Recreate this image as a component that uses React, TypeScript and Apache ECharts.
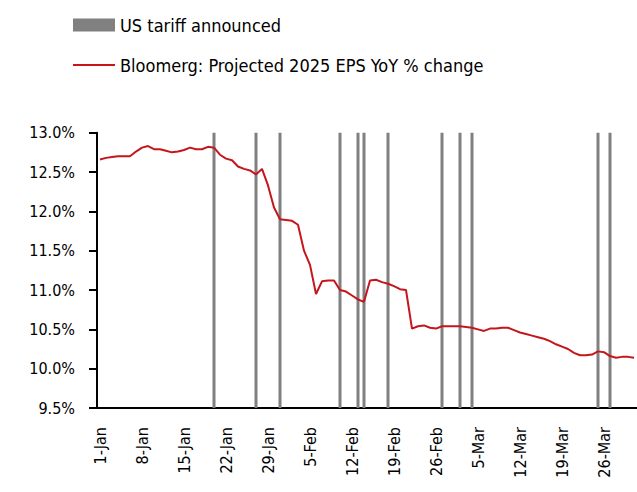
import React, { useEffect, useRef } from "react";
import * as echarts from "echarts";

// Months covered by the date axis (2025): name and number of days shown
const months: [string, number][] = [["Jan", 31], ["Feb", 28], ["Mar", 31]];

// Bloomberg projected 2025 EPS YoY % change, one value per calendar day from 1-Jan
const epsGrowth: number[] = [
  12.66, 12.68, 12.69, 12.70, 12.70, 12.70, 12.76, 12.81, 12.83, 12.79,
  12.79, 12.77, 12.75, 12.76, 12.78, 12.81, 12.79, 12.79, 12.82, 12.81,
  12.72, 12.67, 12.65, 12.57, 12.54, 12.52, 12.47, 12.54, 12.33, 12.05,
  11.90, 11.89, 11.88, 11.83, 11.50, 11.32, 10.95, 11.11, 11.12, 11.12,
  11.00, 10.98, 10.93, 10.88, 10.85, 11.12, 11.13, 11.10, 11.08, 11.05,
  11.01, 11.00, 10.51, 10.54, 10.55, 10.52, 10.51, 10.54, 10.54, 10.54,
  10.54, 10.53, 10.52, 10.50, 10.48, 10.51, 10.51, 10.52, 10.52, 10.49,
  10.46, 10.44, 10.42, 10.40, 10.38, 10.35, 10.31, 10.28, 10.25, 10.20,
  10.17, 10.17, 10.18, 10.22, 10.21, 10.16, 10.14, 10.15, 10.15, 10.14,
];

// Dates on which a US tariff was announced
const tariffDates: string[] = [
  "20-Jan", "27-Jan", "31-Jan", "10-Feb", "13-Feb", "14-Feb", "18-Feb",
  "27-Feb", "2-Mar", "4-Mar", "25-Mar", "27-Mar",
];

const tariffLevel = 13.0;

const yMin = 9.5;
const yMax = 13.0;
const yStep = 0.5;

const seriesNames = ["US tariff announced", "Bloomerg: Projected 2025 EPS YoY % change"];

const FONT = "'DejaVu Sans Condensed', 'Liberation Sans Narrow', sans-serif";
const LINE_ICON = "path://M0,0 L0,0 M0,5.5 L42,5.5 L42,7.5 L0,7.5 Z M42,13 L42,13";

export default function App() {
  const ref = useRef<HTMLDivElement>(null);

  useEffect(() => {
    if (!ref.current) return;
    const chart = echarts.init(ref.current, undefined, { renderer: "svg" });

    const categories: string[] = [];
    months.forEach(([m, n]) => {
      for (let d = 1; d <= n; d++) categories.push(`${d}-${m}`);
    });

    const tariffData = categories.map((c) => (tariffDates.includes(c) ? tariffLevel : "-"));

    chart.setOption({
      animation: false,
      backgroundColor: "#ffffff",
      legend: {
        orient: "vertical",
        left: 68,
        top: 9,
        itemWidth: 42,
        itemHeight: 13,
        itemGap: 18,
        symbolKeepAspect: false,
        textStyle: { fontFamily: FONT, fontSize: 18, color: "#000", lineHeight: 22 },
        data: [
          { name: seriesNames[0], icon: "rect" },
          { name: seriesNames[1], icon: LINE_ICON },
        ],
      },
      grid: { left: 97, right: 0, top: 132.7, bottom: 84 },
      xAxis: {
        type: "category",
        data: categories,
        boundaryGap: true,
        axisLine: { lineStyle: { color: "#000", width: 2 } },
        axisTick: { show: false },
        axisLabel: {
          interval: 6,
          rotate: 90,
          margin: 19,
          fontFamily: FONT,
          fontSize: 16,
          color: "#000",
        },
        splitLine: { show: false },
      },
      yAxis: {
        type: "value",
        min: yMin,
        max: yMax,
        interval: yStep,
        axisLine: { show: true, lineStyle: { color: "#000", width: 2 } },
        axisTick: { show: true, length: 8, lineStyle: { color: "#000", width: 2 } },
        axisLabel: {
          margin: 22,
          fontFamily: FONT,
          fontSize: 16,
          color: "#000",
          formatter: (v: number) => v.toFixed(1) + "%",
        },
        splitLine: { show: false },
      },
      series: [
        {
          name: seriesNames[0],
          type: "bar",
          data: tariffData,
          barWidth: 3,
          clip: true,
          itemStyle: { color: "#808080" },
          z: 1,
        },
        {
          name: seriesNames[1],
          type: "line",
          data: epsGrowth,
          symbol: "none",
          lineStyle: { color: "#C4161C", width: 2 },
          itemStyle: { color: "#C4161C" },
          z: 3,
        },
      ],
    });

    return () => chart.dispose();
  }, []);

  return (
    <div
      ref={ref}
      style={{ position: "fixed", left: 0, top: 0, width: 637, height: 492, background: "#fff" }}
    />
  );
}
